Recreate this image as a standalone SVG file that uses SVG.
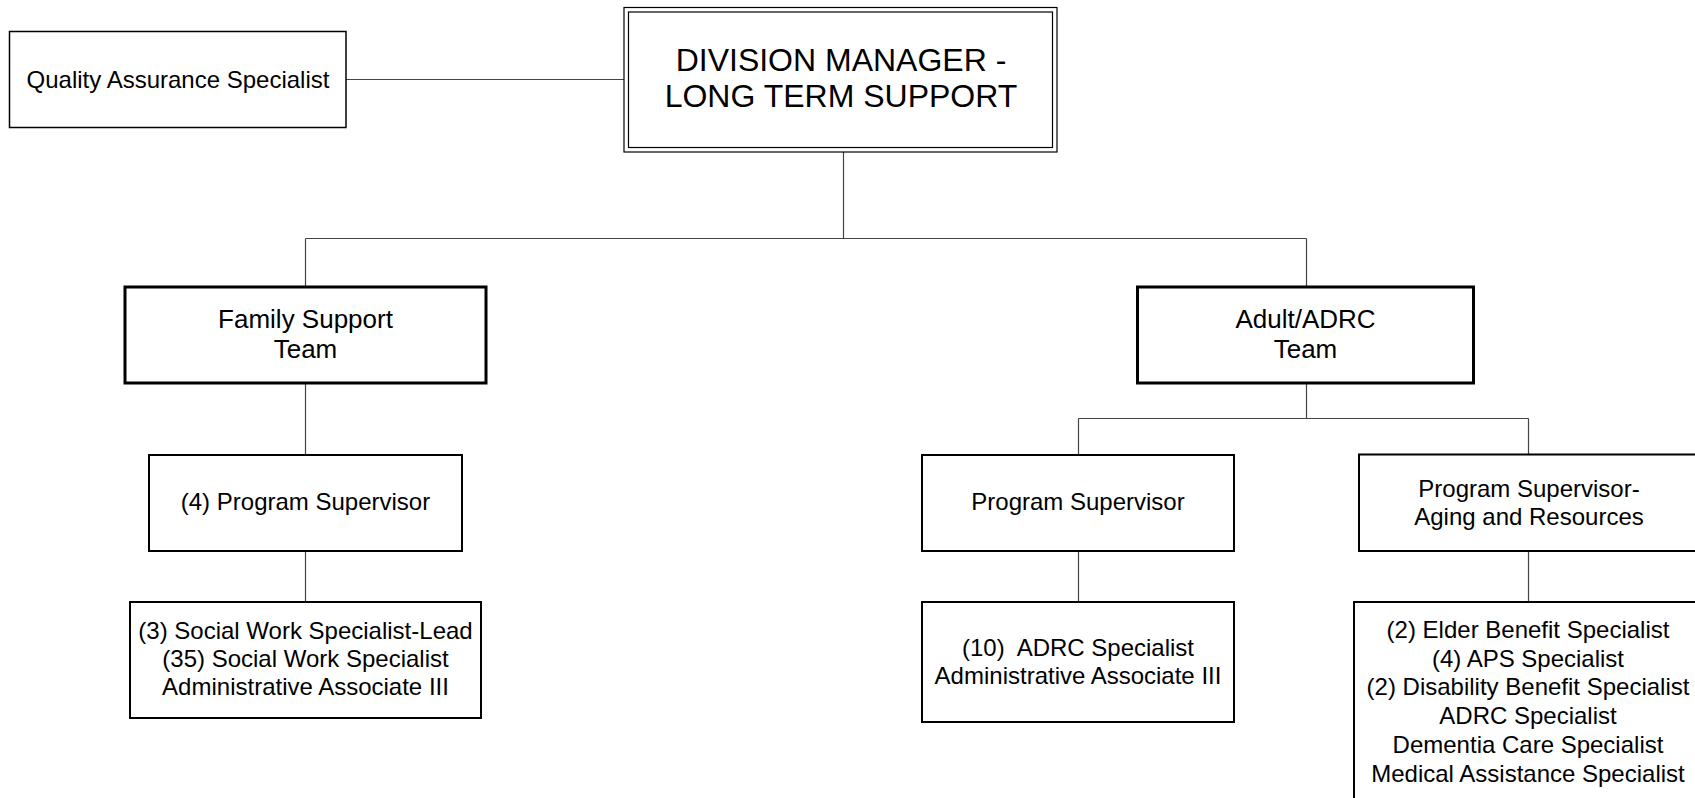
<svg xmlns="http://www.w3.org/2000/svg" width="1695" height="798" viewBox="0 0 1695 798">
  <style>
    text { font-family: "Liberation Sans", Arial, sans-serif; fill: #000; text-anchor: middle; white-space: pre; }
    .t24 { font-size: 24px; }
    .t26 { font-size: 26px; }
    .t32 { font-size: 32px; }
    .box { fill: #fff; stroke: #000; }
    .thin { stroke-width: 1.5; }
    .mid { stroke-width: 2; }
    .bold { stroke-width: 3; }
    .dbl { fill: none; stroke: #000; stroke-width: 1.2; }
    .conn { fill: none; stroke: #444; stroke-width: 1.2; }
  </style>
  <rect width="1695" height="798" fill="#fff"/>

  <!-- connectors -->
  <g id="connectors">
    <line class="conn" x1="346" y1="79.5" x2="624" y2="79.5"/>
    <line class="conn" x1="843.5" y1="152" x2="843.5" y2="238.5"/>
    <line class="conn" x1="305.5" y1="238.5" x2="1306.5" y2="238.5"/>
    <line class="conn" x1="305.5" y1="238.5" x2="305.5" y2="287"/>
    <line class="conn" x1="1306.5" y1="238.5" x2="1306.5" y2="287"/>
    <line class="conn" x1="305.5" y1="383" x2="305.5" y2="455"/>
    <line class="conn" x1="305.5" y1="551" x2="305.5" y2="602"/>
    <line class="conn" x1="1306.5" y1="383" x2="1306.5" y2="418.5"/>
    <line class="conn" x1="1078.5" y1="418.5" x2="1528.5" y2="418.5"/>
    <line class="conn" x1="1078.5" y1="418.5" x2="1078.5" y2="455"/>
    <line class="conn" x1="1528.5" y1="418.5" x2="1528.5" y2="454"/>
    <line class="conn" x1="1078.5" y1="551" x2="1078.5" y2="602"/>
    <line class="conn" x1="1528.5" y1="551" x2="1528.5" y2="602"/>
  </g>

  <!-- top level -->
  <g id="division-manager">
    <rect x="624" y="7.5" width="433" height="144.5" class="box" stroke-width="1.2"/>
    <rect x="628.5" y="12" width="424" height="135.5" class="dbl"/>
    <text class="t32" x="841" y="71">DIVISION MANAGER -</text>
    <text class="t32" x="841" y="107">LONG TERM SUPPORT</text>
  </g>

  <g id="quality-assurance">
    <rect x="9.5" y="31.5" width="336.5" height="96" class="box thin"/>
    <text class="t24" x="178" y="88">Quality Assurance Specialist</text>
  </g>

  <!-- teams -->
  <g id="family-support">
    <rect x="125" y="287" width="361" height="96" class="box bold"/>
    <text class="t26" x="305.5" y="328">Family Support</text>
    <text class="t26" x="305.5" y="358">Team</text>
  </g>

  <g id="adult-adrc">
    <rect x="1137.5" y="287" width="336" height="96" class="box bold"/>
    <text class="t26" x="1305.5" y="328">Adult/ADRC</text>
    <text class="t26" x="1305.5" y="358">Team</text>
  </g>

  <!-- supervisors -->
  <g id="family-supervisor">
    <rect x="149" y="455" width="313" height="96" class="box mid"/>
    <text class="t24" x="305.5" y="510">(4) Program Supervisor</text>
  </g>

  <g id="adrc-supervisor">
    <rect x="922" y="455" width="312" height="96" class="box mid"/>
    <text class="t24" x="1078" y="510">Program Supervisor</text>
  </g>

  <g id="aging-supervisor">
    <rect x="1359" y="454.5" width="340" height="96.5" class="box mid"/>
    <text class="t24" x="1529" y="497">Program Supervisor-</text>
    <text class="t24" x="1529" y="525">Aging and Resources</text>
  </g>

  <!-- staff -->
  <g id="family-staff">
    <rect x="130" y="602" width="351" height="116" class="box mid"/>
    <text class="t24" x="305.5" y="639">(3) Social Work Specialist-Lead</text>
    <text class="t24" x="305.5" y="667">(35) Social Work Specialist</text>
    <text class="t24" x="305.5" y="695">Administrative Associate III</text>
  </g>

  <g id="adrc-staff">
    <rect x="922" y="602" width="312" height="120" class="box mid"/>
    <text class="t24" x="1078" y="656">(10)  ADRC Specialist</text>
    <text class="t24" x="1078" y="684">Administrative Associate III</text>
  </g>

  <g id="aging-staff">
    <rect x="1354" y="602" width="350" height="210" class="box mid"/>
    <text class="t24" x="1528" y="638">(2) Elder Benefit Specialist</text>
    <text class="t24" x="1528" y="667">(4) APS Specialist</text>
    <text class="t24" x="1528" y="695">(2) Disability Benefit Specialist</text>
    <text class="t24" x="1528" y="724">ADRC Specialist</text>
    <text class="t24" x="1528" y="753">Dementia Care Specialist</text>
    <text class="t24" x="1528" y="782">Medical Assistance Specialist</text>
  </g>
</svg>
